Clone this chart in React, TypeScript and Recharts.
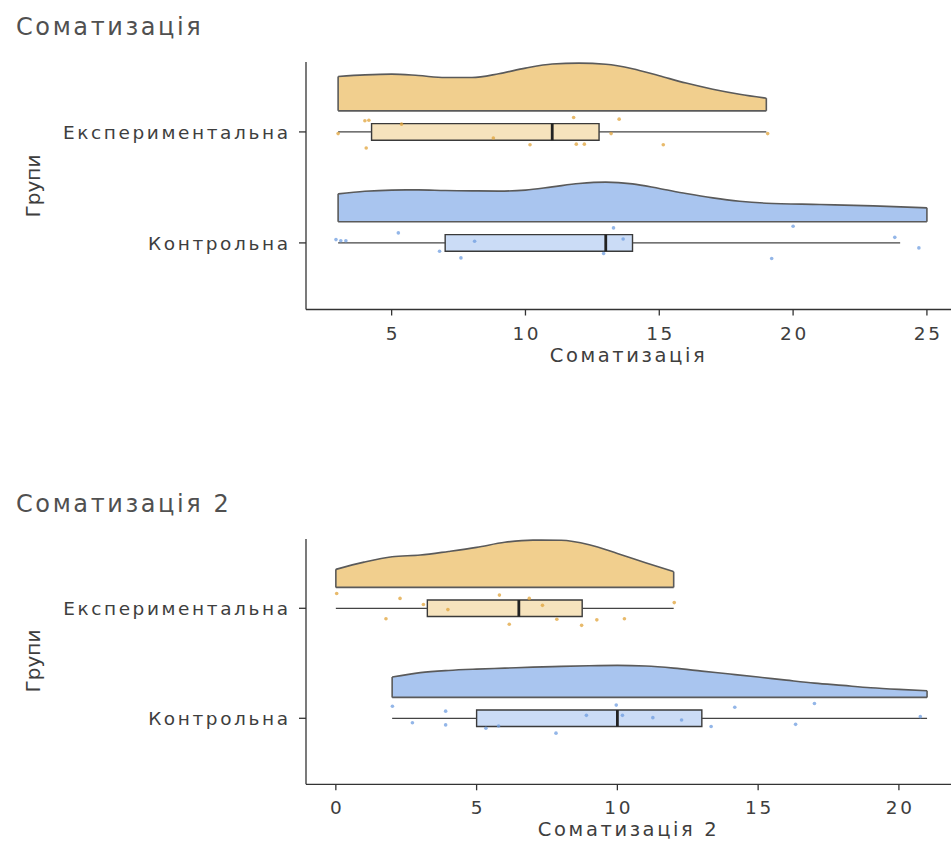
import React from 'react';
import {
  ComposedChart,
  Area,
  Scatter,
  XAxis,
  YAxis,
  ReferenceLine,
  ReferenceArea,
} from 'recharts';

// y positions: 1 = Контрольна (bottom), 2 = Експериментальна (top)
const GROUP_LABELS = ['Контрольна', 'Експериментальна'];
const Y_TITLE = 'Групи';

// ---- Соматизація ----
const somTitle = 'Соматизація';
const somTicks = [5, 10, 15, 20, 25];
const somDomain = [1.8, 25.9];

const somExpDensX = [3, 4, 5, 6, 7, 8, 9, 10, 11, 12, 13, 14, 15, 16, 17, 18, 19];
const somExpDensH = [0.309, 0.324, 0.331, 0.318, 0.3, 0.3, 0.334, 0.385, 0.422, 0.43, 0.42, 0.38, 0.316, 0.25, 0.195, 0.15, 0.114];
const somExpBox = [3, 4.25, 11, 12.75, 19]; // min, q1, median, q3, max
const somExpPts = [
  [4.0, 0.1], [4.15, 0.105], [3.0, -0.015], [5.37, 0.07], [4.05, -0.145], [8.8, -0.055],
  [10.17, -0.115], [11.8, 0.13], [11.9, -0.11], [12.2, -0.11], [13.5, 0.115], [13.2, -0.015],
  [15.15, -0.115], [19.05, -0.015],
];

const somCtrlDensX = [3, 4, 5, 6, 7, 8, 9, 10, 11, 12, 13, 14, 15, 16, 17, 18, 19, 21, 23, 25];
const somCtrlDensH = [0.252, 0.275, 0.286, 0.288, 0.282, 0.279, 0.277, 0.286, 0.315, 0.345, 0.358, 0.342, 0.3, 0.255, 0.216, 0.186, 0.168, 0.156, 0.144, 0.126];
const somCtrlBox = [3, 7, 13, 14, 24];
const somCtrlPts = [
  [2.92, 0.03], [3.1, 0.02], [3.29, 0.02], [5.25, 0.09], [6.79, -0.075], [7.59, -0.135],
  [8.1, 0.015], [13.29, 0.135], [12.92, -0.095], [13.65, 0.035], [20.0, 0.15], [19.2, -0.14],
  [23.8, 0.05], [24.7, -0.045],
];

// ---- Соматизація 2 ----
const som2Title = 'Соматизація 2';
const som2Ticks = [0, 5, 10, 15, 20];
const som2Domain = [-1.06, 21.85];

const som2ExpDensX = [0, 1, 2, 3, 4, 5, 6, 7, 8, 9, 10, 11, 12];
const som2ExpDensH = [0.164, 0.23, 0.279, 0.294, 0.327, 0.364, 0.41, 0.43, 0.428, 0.388, 0.309, 0.225, 0.143];
const som2ExpBox = [0, 3.25, 6.5, 8.75, 12];
const som2ExpPts = [
  [0.03, 0.135], [2.28, 0.09], [1.78, -0.095], [3.11, 0.035], [3.98, -0.012], [5.81, 0.12],
  [6.16, -0.145], [6.87, 0.09], [7.34, 0.027], [7.85, -0.1], [8.73, -0.155], [9.27, -0.105],
  [10.25, -0.095], [12.02, 0.052],
];

const som2CtrlDensX = [2, 3, 4, 5, 6, 7, 8, 9, 10, 11, 12, 13, 14, 15, 16, 17, 18, 19, 20, 21];
const som2CtrlDensH = [0.185, 0.225, 0.245, 0.257, 0.266, 0.275, 0.282, 0.288, 0.291, 0.285, 0.266, 0.239, 0.212, 0.185, 0.157, 0.13, 0.109, 0.088, 0.073, 0.061];
const som2CtrlBox = [2, 5, 10, 13, 21];
const som2CtrlPts = [
  [2.01, 0.11], [2.72, -0.04], [3.9, 0.065], [3.9, -0.06], [5.33, -0.09], [5.78, -0.07],
  [7.82, -0.135], [8.9, 0.027], [9.96, 0.12], [10.18, 0.027], [11.26, 0.006], [12.28, -0.015],
  [13.33, -0.075], [14.17, 0.1], [16.33, -0.055], [17.0, 0.135], [20.76, 0.015],
];

const TEXT = '#3e3e3e';
const AXIS = '#333';
const OUTLINE = '#5a5a5a';
const EXP_COLORS = { fill: '#f1cf8e', box: '#f6e3bd', dot: '#e0a33a' };
const CTRL_COLORS = { fill: '#a9c5ef', box: '#cbdcf6', dot: '#6f9de0' };

const Y_DOMAIN = [0.4, 2.63];
const VIOLIN_GAP = 0.19; // violin sits above the box
const BOX_HALF = 0.075;
const LS = 2.6; // letter spacing to match the wide text of the original
const PLOT_TOP = 62;

function XTick(p: any) {
  return (
    <text x={p.x} y={p.y} dy="0.71em" dx={LS / 2} textAnchor="middle" fill={TEXT} fontSize={18.5} letterSpacing={LS}>
      {p.payload.value}
    </text>
  );
}

function YTick(p: any) {
  return (
    <text x={p.x} y={p.y} dy="0.36em" dx={LS} textAnchor="end" fill={TEXT} fontSize={18.5} letterSpacing={LS}>
      {GROUP_LABELS[p.payload.value - 1]}
    </text>
  );
}

function Panel({ top, plotH, title, xLabel, domain, ticks, groups }: any) {
  const height = PLOT_TOP + plotH + 62;
  const items: any[] = [];
  groups.forEach((g: any) => {
    const base = g.pos + VIOLIN_GAP;
    const violin = g.densX.map((x: number, i: number) => ({ x, range: [base, base + g.densH[i]] }));
    const last = g.densX.length - 1;
    const [lo, q1, med, q3, hi] = g.box;
    const k = `g${g.pos}`;
    items.push(
      <Area
        key={`${k}-violin`}
        data={violin}
        dataKey="range"
        type="monotone"
        fill={g.colors.fill}
        fillOpacity={1}
        stroke={OUTLINE}
        strokeWidth={1.6}
        dot={false}
        activeDot={false}
        isAnimationActive={false}
      />,
      <ReferenceLine
        key={`${k}-edge0`}
        segment={[{ x: g.densX[0], y: base }, { x: g.densX[0], y: base + g.densH[0] }]}
        stroke={OUTLINE}
        strokeWidth={1.6}
      />,
      <ReferenceLine
        key={`${k}-edge1`}
        segment={[{ x: g.densX[last], y: base }, { x: g.densX[last], y: base + g.densH[last] }]}
        stroke={OUTLINE}
        strokeWidth={1.6}
      />,
      <ReferenceLine key={`${k}-wlo`} segment={[{ x: lo, y: g.pos }, { x: q1, y: g.pos }]} stroke="#444" strokeWidth={1.3} />,
      <ReferenceLine key={`${k}-whi`} segment={[{ x: q3, y: g.pos }, { x: hi, y: g.pos }]} stroke="#444" strokeWidth={1.3} />,
      <ReferenceArea
        key={`${k}-box`}
        x1={q1}
        x2={q3}
        y1={g.pos - BOX_HALF}
        y2={g.pos + BOX_HALF}
        fill={g.colors.box}
        fillOpacity={1}
        stroke="#3a3a3a"
        strokeWidth={1.4}
      />,
      <ReferenceLine
        key={`${k}-med`}
        segment={[{ x: med, y: g.pos - BOX_HALF }, { x: med, y: g.pos + BOX_HALF }]}
        stroke="#222"
        strokeWidth={2.8}
      />,
      <Scatter
        key={`${k}-pts`}
        data={g.pts.map(([x, j]: number[]) => ({ x, y: g.pos + j }))}
        shape={(s: any) => <circle cx={s.cx} cy={s.cy} r={1.8} fill={g.colors.dot} fillOpacity={0.75} />}
        isAnimationActive={false}
      />
    );
  });

  return (
    <div style={{ position: 'absolute', left: 0, top, width: 951, height }}>
      <div
        style={{
          position: 'absolute',
          left: 16,
          top: 14,
          fontSize: 24,
          lineHeight: '26px',
          letterSpacing: 2.6,
          color: '#505050',
          whiteSpace: 'nowrap',
        }}
      >
        {title}
      </div>
      <div
        style={{
          position: 'absolute',
          left: 33,
          top: PLOT_TOP + plotH / 2,
          transform: 'translate(-50%, -50%) rotate(-90deg)',
          fontSize: 20,
          color: TEXT,
          whiteSpace: 'nowrap',
        }}
      >
        {Y_TITLE}
      </div>
      <ComposedChart width={951} height={height} margin={{ top: PLOT_TOP, right: 0, bottom: 6, left: 0 }}>
        <XAxis
          type="number"
          dataKey="x"
          domain={domain}
          ticks={ticks}
          allowDataOverflow
          height={56}
          tickSize={6}
          tickMargin={11}
          tick={<XTick />}
          axisLine={{ stroke: AXIS, strokeWidth: 1.3 }}
          tickLine={{ stroke: AXIS, strokeWidth: 1.3 }}
          label={{ value: xLabel, position: 'insideBottom', offset: 4, fill: TEXT, fontSize: 19.5, letterSpacing: LS }}
        />
        <YAxis
          type="number"
          dataKey="y"
          domain={Y_DOMAIN}
          ticks={[1, 2]}
          allowDataOverflow
          width={306}
          tickSize={7}
          tickMargin={11}
          tick={<YTick />}
          axisLine={{ stroke: AXIS, strokeWidth: 1.3 }}
          tickLine={{ stroke: AXIS, strokeWidth: 1.3 }}
        />
        {items}
      </ComposedChart>
    </div>
  );
}

export default function App() {
  const som = [
    { pos: 2, densX: somExpDensX, densH: somExpDensH, box: somExpBox, pts: somExpPts, colors: EXP_COLORS },
    { pos: 1, densX: somCtrlDensX, densH: somCtrlDensH, box: somCtrlBox, pts: somCtrlPts, colors: CTRL_COLORS },
  ];
  const som2 = [
    { pos: 2, densX: som2ExpDensX, densH: som2ExpDensH, box: som2ExpBox, pts: som2ExpPts, colors: EXP_COLORS },
    { pos: 1, densX: som2CtrlDensX, densH: som2CtrlDensH, box: som2CtrlBox, pts: som2CtrlPts, colors: CTRL_COLORS },
  ];
  return (
    <div
      style={{
        position: 'absolute',
        left: 0,
        top: 0,
        width: 951,
        height: 868,
        overflow: 'hidden',
        background: '#fff',
        fontFamily: '"DejaVu Sans", sans-serif',
      }}
    >
      <Panel top={0} plotH={247.5} title={somTitle} xLabel={somTitle} domain={somDomain} ticks={somTicks} groups={som} />
      <Panel top={476.7} plotH={245.3} title={som2Title} xLabel={som2Title} domain={som2Domain} ticks={som2Ticks} groups={som2} />
    </div>
  );
}
